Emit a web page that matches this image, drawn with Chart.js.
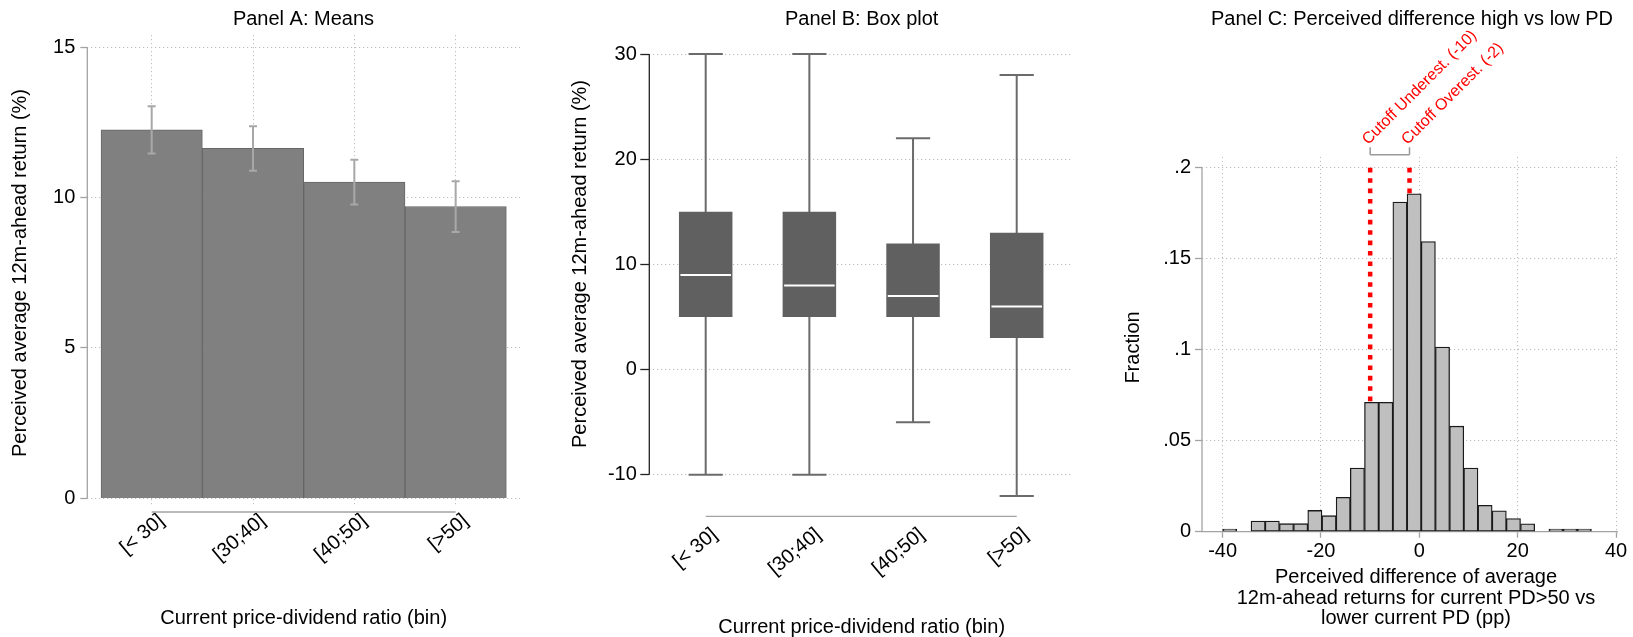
<!DOCTYPE html>
<html>
<head>
<meta charset="utf-8">
<script src="https://cdn.jsdelivr.net/npm/chart.js@4.4.1/dist/chart.umd.min.js"></script>
<style>
  html, body { margin: 0; padding: 0; background: #fff; }
  #wrap { position: relative; width: 1633px; height: 637px; overflow: hidden; background: #fff; }
  #wrap canvas { position: absolute; top: 0; }
</style>
</head>
<body>
<div id="wrap">
  <canvas id="panelA" width="545" height="637" style="left:0px"></canvas>
  <canvas id="panelB" width="540" height="637" style="left:545px"></canvas>
  <canvas id="panelC" width="548" height="637" style="left:1085px"></canvas>
</div>
<script>
// ---------------- data ----------------
const pdBins = ['[< 30]', '[30;40]', '[40;50]', '[>50]'];

// Panel A: mean perceived return with confidence band
const meanReturn = [12.25, 11.63, 10.51, 9.70];
const ciLow = [11.46, 10.89, 9.77, 8.85];
const ciHigh = [13.03, 12.37, 11.25, 10.54];

// Panel B: box plot summary per bin
const boxMin = [-10, -10, -5, -12];
const boxQ1 = [5, 5, 5, 3];
const boxMedian = [9, 8, 7, 6];
const boxQ3 = [15, 15, 12, 13];
const boxMax = [30, 30, 22, 28];

// Panel C: histogram of the perceived difference (26 bins from -40 to 35)
const histStart = -40;
const histEnd = 35;
const histFraction = [0.0015, 0, 0.0059, 0.0059, 0.0044, 0.0044, 0.0117, 0.0088, 0.0189, 0.035,
                      0.0711, 0.0711, 0.1812, 0.1857, 0.1595, 0.1015, 0.058, 0.035, 0.0145, 0.0115,
                      0.0072, 0.0043, 0, 0.0014, 0.0014, 0.0014];
const cutoffs = [-10, -2];
const cutoffLabels = ['Cutoff Underest. (-10)', 'Cutoff Overest. (-2)'];

// tick values / labels
const yTicksA = [0, 5, 10, 15];
const yTicksB = [-10, 0, 10, 20, 30];
const yTicksC = [0, 0.05, 0.1, 0.15, 0.2];
const yTickLabelsC = ['0', '.05', '.1', '.15', '.2'];
const xTicksC = [-40, -20, 0, 20, 40];

// ---------------- styling ----------------
const FONT = "'Liberation Sans', Arial, Helvetica, sans-serif";
const GRID = '#bdbdbd';
const GRID_DASH = [1.2, 2.8];
const AXIS = '#a3a3a3';
const BIN_ANGLE = 40;      // slant of the bin labels (degrees)
const CUTOFF_ANGLE = 45;   // slant of the cutoff labels (degrees)
const H = 637;

Chart.defaults.font.family = FONT;
Chart.defaults.font.size = 20;
Chart.defaults.color = '#000';

function frame(canvasLeft, canvasWidth, area) {
  return {
    padding: { left: 0, top: area.top, right: canvasLeft + canvasWidth - area.right, bottom: 0 },
    yWidth: area.left - canvasLeft,
    xHeight: H - area.bottom
  };
}

function drawText(ctx, str, x, y, o = {}) {
  ctx.save();
  ctx.translate(x, y);
  if (o.rot) ctx.rotate(o.rot);
  ctx.font = (o.size || 20) + 'px ' + FONT;
  ctx.fillStyle = o.color || '#000';
  ctx.textAlign = o.align || 'center';
  ctx.textBaseline = o.baseline || 'alphabetic';
  ctx.fillText(str, 0, 0);
  ctx.restore();
}

function hline(ctx, x1, x2, y) { ctx.moveTo(x1, y); ctx.lineTo(x2, y); }
function vline(ctx, x, y1, y2) { ctx.moveTo(x, y1); ctx.lineTo(x, y2); }

const baseOptions = (fr) => ({
  responsive: false,
  animation: false,
  events: [],
  layout: { padding: fr.padding },
  plugins: { legend: { display: false }, tooltip: { enabled: false }, title: { display: false } }
});

// ================= Panel A: Means =================
const leftA = 0;
const frA = frame(leftA, 545, { left: 87.3, right: 520, top: 35, bottom: 505 });

const meansDecor = {
  id: 'meansDecor',
  afterDatasetsDraw(chart) {
    const { ctx, chartArea, scales: { x, y } } = chart;
    ctx.save();
    // confidence intervals
    ctx.strokeStyle = '#a8a8a8';
    ctx.lineWidth = 2;
    ctx.beginPath();
    ciLow.forEach((lo, i) => {
      const px = x.getPixelForValue(i + 1);
      const yl = y.getPixelForValue(lo);
      const yh = y.getPixelForValue(ciHigh[i]);
      vline(ctx, px, yl, yh);
      hline(ctx, px - 4, px + 4, yl);
      hline(ctx, px - 4, px + 4, yh);
    });
    ctx.stroke();
    // axis lines
    ctx.strokeStyle = AXIS;
    ctx.lineWidth = 1.3;
    ctx.beginPath();
    vline(ctx, chartArea.left, y.getPixelForValue(yTicksA[yTicksA.length - 1]), y.getPixelForValue(yTicksA[0]));
    hline(ctx, x.getPixelForValue(1), x.getPixelForValue(pdBins.length), chartArea.bottom + 7);
    ctx.stroke();
    ctx.restore();
  },
  afterDraw(chart) {
    const ctx = chart.ctx;
    drawText(ctx, 'Panel A: Means', 303.5 - leftA, 25);
    drawText(ctx, 'Current price-dividend ratio (bin)', 303.7 - leftA, 624);
    drawText(ctx, 'Perceived average 12m-ahead return (%)', 20 - leftA, 273,
             { rot: -Math.PI / 2, baseline: 'middle' });
  }
};

new Chart(document.getElementById('panelA'), {
  type: 'bar',
  data: {
    datasets: [{
      data: meanReturn.map((v, i) => ({ x: i + 1, y: v })),
      backgroundColor: '#808080',
      borderColor: '#666666',
      borderWidth: 1,
      barPercentage: 1,
      categoryPercentage: 1
    }]
  },
  options: Object.assign(baseOptions(frA), {
    scales: {
      x: {
        type: 'linear', min: 0.3645, max: 4.635, offset: false,
        afterBuildTicks: s => { s.ticks = pdBins.map((_, i) => ({ value: i + 1 })); },
        afterFit: s => { s.height = frA.xHeight; },
        ticks: { callback: v => pdBins[v - 1], minRotation: BIN_ANGLE, maxRotation: BIN_ANGLE, autoSkip: false,
                 padding: 4, labelOffset: 10 },
        grid: { offset: false, color: GRID, lineWidth: 1, drawTicks: false },
        border: { display: false, dash: GRID_DASH }
      },
      y: {
        min: -0.22, max: 15.4,
        afterBuildTicks: s => { s.ticks = yTicksA.map(v => ({ value: v })); },
        afterFit: s => { s.width = frA.yWidth; },
        ticks: { padding: 5 },
        grid: { color: GRID, lineWidth: 1, drawTicks: true, tickLength: 7, tickColor: AXIS, tickWidth: 1.3, tickBorderDash: [] },
        border: { display: false, dash: GRID_DASH }
      }
    }
  }),
  plugins: [meansDecor]
});

// ================= Panel B: Box plot =================
const leftB = 545;
const frB = frame(leftB, 540, { left: 649.3, right: 1073, top: 43.5, bottom: 506.4 });

const boxDecor = {
  id: 'boxDecor',
  beforeDatasetsDraw(chart) {
    const { ctx, scales: { x, y } } = chart;
    ctx.save();
    ctx.strokeStyle = '#6b6b6b';
    ctx.lineWidth = 2;
    ctx.beginPath();
    boxMin.forEach((lo, i) => {
      const px = x.getPixelForValue(i + 1);
      const half = (x.getPixelForValue(2) - x.getPixelForValue(1)) * 0.165;
      const yl = y.getPixelForValue(lo);
      const yh = y.getPixelForValue(boxMax[i]);
      vline(ctx, px, yl, yh);
      hline(ctx, px - half, px + half, yl);
      hline(ctx, px - half, px + half, yh);
    });
    ctx.stroke();
    ctx.restore();
  },
  afterDatasetsDraw(chart) {
    const { ctx, chartArea, scales: { x, y } } = chart;
    const bars = chart.getDatasetMeta(0).data;
    ctx.save();
    // medians
    ctx.strokeStyle = '#ffffff';
    ctx.lineWidth = 2;
    ctx.beginPath();
    boxMedian.forEach((m, i) => {
      const px = x.getPixelForValue(i + 1);
      const w = bars[i].width;
      hline(ctx, px - w / 2 + 1.5, px + w / 2 - 1.5, y.getPixelForValue(m));
    });
    ctx.stroke();
    // y axis (black) and x axis (grey)
    ctx.strokeStyle = '#222';
    ctx.lineWidth = 1.3;
    ctx.beginPath();
    vline(ctx, chartArea.left, y.getPixelForValue(yTicksB[yTicksB.length - 1]), y.getPixelForValue(yTicksB[0]));
    ctx.stroke();
    ctx.strokeStyle = AXIS;
    ctx.beginPath();
    hline(ctx, x.getPixelForValue(1), x.getPixelForValue(pdBins.length), chartArea.bottom + 10);
    ctx.stroke();
    ctx.restore();
  },
  afterDraw(chart) {
    const ctx = chart.ctx;
    drawText(ctx, 'Panel B: Box plot', 861.7 - leftB, 25);
    drawText(ctx, 'Current price-dividend ratio (bin)', 861.7 - leftB, 633);
    drawText(ctx, 'Perceived average 12m-ahead return (%)', 580 - leftB, 264,
             { rot: -Math.PI / 2, baseline: 'middle' });
  }
};

new Chart(document.getElementById('panelB'), {
  type: 'bar',
  data: {
    datasets: [{
      data: boxQ1.map((q, i) => ({ x: i + 1, y: [q, boxQ3[i]] })),
      backgroundColor: '#606060',
      borderWidth: 0,
      barPercentage: 0.516,
      categoryPercentage: 1
    }]
  },
  options: Object.assign(baseOptions(frB), {
    scales: {
      x: {
        type: 'linear', min: 0.456, max: 4.543, offset: false,
        afterBuildTicks: s => { s.ticks = pdBins.map((_, i) => ({ value: i + 1 })); },
        afterFit: s => { s.height = frB.xHeight; },
        ticks: { callback: v => pdBins[v - 1], minRotation: BIN_ANGLE, maxRotation: BIN_ANGLE, autoSkip: false,
                 padding: 16.5, labelOffset: 9 },
        grid: { display: false, offset: false, drawTicks: false },
        border: { display: false }
      },
      y: {
        min: -13, max: 31,
        afterBuildTicks: s => { s.ticks = yTicksB.map(v => ({ value: v })); },
        afterFit: s => { s.width = frB.yWidth; },
        ticks: { padding: 3.5 },
        grid: { color: GRID, lineWidth: 1, drawTicks: true, tickLength: 9, tickColor: '#222', tickWidth: 1.3, tickBorderDash: [] },
        border: { display: false, dash: GRID_DASH }
      }
    }
  }),
  plugins: [boxDecor]
});

// ================= Panel C: Histogram =================
const leftC = 1085;
const frC = frame(leftC, 548, { left: 1202, right: 1617.5, top: 156.9, bottom: 531.7 });
const binWidth = (histEnd - histStart) / histFraction.length;

const histDecor = {
  id: 'histDecor',
  afterDraw(chart) {
    const { ctx, chartArea, scales: { x, y } } = chart;
    ctx.save();
    // y axis line
    ctx.strokeStyle = AXIS;
    ctx.lineWidth = 1.3;
    ctx.beginPath();
    vline(ctx, chartArea.left, y.getPixelForValue(yTicksC[yTicksC.length - 1]), y.getPixelForValue(yTicksC[0]));
    ctx.stroke();
    // secondary top axis marking the cutoffs
    const axisY = y.getPixelForValue(yTicksC[yTicksC.length - 1]) - 13;
    const tickTop = axisY - 7.5;
    const xs = cutoffs.map(c => x.getPixelForValue(c));
    ctx.strokeStyle = '#9a9a9a';
    ctx.lineWidth = 1.5;
    ctx.beginPath();
    hline(ctx, xs[0], xs[xs.length - 1], axisY);
    xs.forEach(px => vline(ctx, px, axisY, tickTop));
    ctx.stroke();
    ctx.restore();
    xs.forEach((px, i) => {
      drawText(ctx, cutoffLabels[i], px - 2, tickTop - 2,
               { rot: -CUTOFF_ANGLE * Math.PI / 180, align: 'left', size: 16, color: '#ff0000' });
    });
    drawText(ctx, 'Panel C: Perceived difference high vs low PD', 1412 - leftC, 25);
    drawText(ctx, 'Fraction', 1133 - leftC, 347.5, { rot: -Math.PI / 2, baseline: 'middle' });
    const xTitle = ['Perceived difference of average',
                    '12m-ahead returns for current PD>50 vs',
                    'lower current PD (pp)'];
    xTitle.forEach((t, i) => drawText(ctx, t, 1416 - leftC, 583.3 + i * 20.5));
  }
};

const cutoffSets = cutoffs.map(c => ({
  type: 'line',
  data: [{ x: c, y: yTicksC[yTicksC.length - 1] }, { x: c, y: 0 }],
  borderColor: '#ff0000',
  borderWidth: 4.5,
  borderDash: [4.6, 5.8],
  borderCapStyle: 'butt',
  pointRadius: 0,
  fill: false,
  order: 1
}));

new Chart(document.getElementById('panelC'), {
  type: 'bar',
  data: {
    datasets: [{
      type: 'bar',
      data: histFraction.map((f, i) => ({ x: histStart + (i + 0.5) * binWidth, y: f > 0 ? f : null })),
      backgroundColor: '#bfbfbf',
      borderColor: '#1a1a1a',
      borderWidth: 1.3,
      borderSkipped: false,
      barPercentage: 1,
      categoryPercentage: 1,
      order: 0
    }].concat(cutoffSets)
  },
  options: Object.assign(baseOptions(frC), {
    scales: {
      x: {
        type: 'linear', min: -44.2, max: 40.3, offset: false,
        afterBuildTicks: s => { s.ticks = xTicksC.map(v => ({ value: v })); },
        afterFit: s => { s.height = frC.xHeight; },
        ticks: { callback: v => String(v), maxRotation: 0, minRotation: 0, autoSkip: false, padding: 2 },
        grid: { offset: false, color: GRID, lineWidth: 1, drawTicks: true, tickLength: 6, tickColor: AXIS, tickWidth: 1.3, tickBorderDash: [] },
        border: { display: true, color: AXIS, width: 1.3, dash: GRID_DASH }
      },
      y: {
        min: 0, max: 0.206,
        afterBuildTicks: s => { s.ticks = yTicksC.map(v => ({ value: v })); },
        afterFit: s => { s.width = frC.yWidth; },
        ticks: { callback: (v, i) => yTickLabelsC[i], padding: 4 },
        grid: { color: GRID, lineWidth: 1, drawTicks: true, tickLength: 7, tickColor: AXIS, tickWidth: 1.3, tickBorderDash: [] },
        border: { display: false, dash: GRID_DASH }
      }
    }
  }),
  plugins: [histDecor]
});
</script>
</body>
</html>
